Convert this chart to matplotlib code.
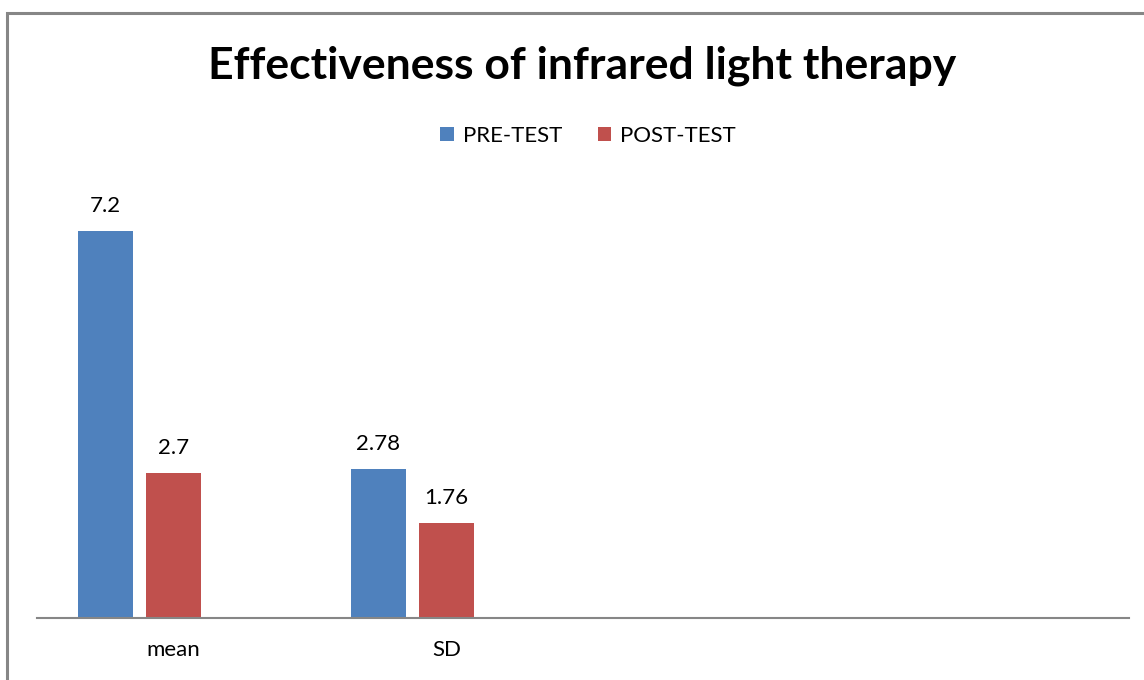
import matplotlib.pyplot as plt
import numpy as np
from matplotlib.patches import Rectangle

categories = ["mean", "SD", "", ""]
pre_test = [7.2, 2.78]
post_test = [2.7, 1.76]
series_names = ["PRE-TEST", "POST-TEST"]

plt.rcParams['font.family'] = ['Lato', 'DejaVu Sans']

fig = plt.figure(figsize=(11.44, 6.8), dpi=100)
ax = fig.add_axes([37/1144, 62/680, 1092/1144, 430/680])

# outer chart border (cut off on the right and bottom like the original)
fig.patches.append(Rectangle((7/1144, -0.1), 1.2, (680-13)/680 + 0.1,
                             transform=fig.transFigure, fill=False,
                             edgecolor='#868686', linewidth=2.2))

x = np.arange(len(pre_test))
w = 0.2
b1 = ax.bar(x - 0.25, pre_test, w, color='#4f81bd', label=series_names[0])
b2 = ax.bar(x, post_test, w, color='#c0504d', label=series_names[1])

for bars in (b1, b2):
    for r in bars:
        ax.text(r.get_x() + r.get_width()/2, r.get_height() + 0.28,
                f"{r.get_height():g}", ha='center', va='bottom', fontsize=16)

ax.set_xlim(-0.5, 3.5)
ax.set_ylim(0, 8)
ax.set_xticks(range(len(categories)))
ax.set_xticklabels(categories, fontsize=16)
ax.tick_params(axis='x', length=0, pad=16)
ax.set_yticks([])
for s in ['top', 'right', 'left']:
    ax.spines[s].set_visible(False)
ax.spines['bottom'].set_color('#868686')
ax.spines['bottom'].set_linewidth(1.5)

fig.text(0.509, 0.903, "Effectiveness of infrared light therapy", ha='center',
         va='center', fontsize=32, fontweight='bold')
fig.legend(loc='center', bbox_to_anchor=(0.514, 0.80), ncol=2, frameon=False,
           fontsize=16, handlelength=0.6, handleheight=0.6, handletextpad=0.4,
           columnspacing=1.6)

fig.savefig("out.png", dpi=100)
